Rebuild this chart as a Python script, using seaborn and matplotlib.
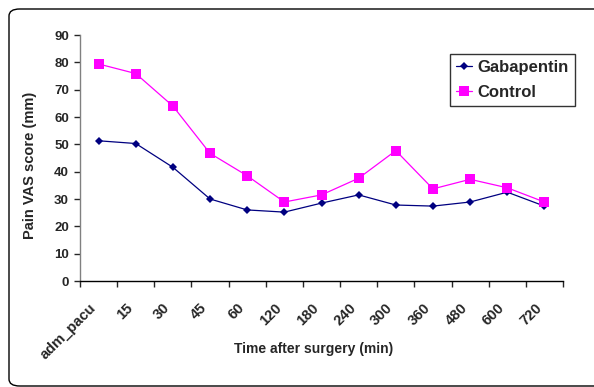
import pandas as pd
import matplotlib.pyplot as plt
import matplotlib.transforms as mtransforms
import seaborn as sns
from matplotlib.patches import FancyBboxPatch

# Datos
times = ['adm_pacu', '15', '30', '45', '60', '120', '180', '240', '300', '360', '480', '600', '720']
gabapentin = [51.3, 50.3, 41.6, 30.0, 26.0, 25.2, 28.5, 31.5, 27.8, 27.4, 28.9, 32.5, 27.4]
control = [79.4, 75.9, 64.0, 46.7, 38.5, 28.9, 31.5, 37.6, 47.7, 33.7, 37.2, 34.1, 28.9]

df = pd.DataFrame({
    'time': times * 2,
    'score': gabapentin + control,
    'group': ['Gabapentin'] * len(times) + ['Control'] * len(times),
})

sns.set_style("white")
plt.rcParams['font.family'] = ['Liberation Sans', 'DejaVu Sans']
plt.rcParams['font.weight'] = 'bold'

fig = plt.figure(figsize=(5.94, 3.87), dpi=100)
ax = fig.add_axes([80 / 594, 1 - 281 / 387, 483 / 594, 246 / 387])

# Marco redondeado del gráfico (se sale por la derecha)
frame = FancyBboxPatch((9 / 594, 1 / 387), 1.2, 377 / 387, boxstyle="round,pad=0,rounding_size=0.018",
                       transform=fig.transFigure, fill=False, edgecolor='black', linewidth=1.0, zorder=0)
fig.patches.append(frame)

sns.lineplot(data=df, x='time', y='score', hue='group', style='group',
             palette={'Gabapentin': '#000080', 'Control': '#FF00FF'},
             markers={'Gabapentin': 'D', 'Control': 's'},
             dashes=False, sort=False, linewidth=0.9, ax=ax,
             markeredgewidth=0, legend=False)
for line, ms in zip(ax.lines, [4.5, 6.5]):
    line.set_markersize(ms)

ax.set_xlim(-0.5, len(times) - 0.5)
ax.set_ylim(0, 90)
ax.set_yticks(range(0, 91, 10))
ax.set_xticks([i - 0.5 for i in range(len(times) + 1)])
ax.set_xticklabels([])
ax.set_xticks(range(len(times)), minor=True)
ax.set_xticklabels(times, minor=True, rotation=45, ha='right', rotation_mode='anchor', fontsize=10.5)
ax.tick_params(axis='x', which='minor', length=0, pad=10)
ax.tick_params(axis='x', which='major', length=4, width=1, direction='out', bottom=True)
ax.tick_params(axis='y', length=4, width=1, direction='out', left=True, labelsize=9.5, pad=4)

# desplazar las etiquetas del eje x un poco a la izquierda y abajo
offset = mtransforms.ScaledTranslation(-0.10, -0.06, fig.dpi_scale_trans)
for lab in ax.get_xticklabels(minor=True):
    lab.set_transform(lab.get_transform() + offset)

sns.despine(ax=ax)
for s in ['left', 'bottom']:
    ax.spines[s].set_color('black')
    ax.spines[s].set_linewidth(1.0)
ax.spines['left'].set_color('#808080')

ax.set_xlabel("Time after surgery (min)", fontsize=10, fontweight='bold')
ax.xaxis.set_label_coords(0.484, -0.25)
ax.set_ylabel("Pain VAS score (mm)", fontsize=10.5, fontweight='bold')
ax.yaxis.set_label_coords(-0.089, 0.47)

handles = [
    plt.Line2D([], [], color='#000080', marker='D', markersize=4.5, markeredgewidth=0, linewidth=0.9),
    plt.Line2D([], [], color='#FF00FF', marker='s', markersize=6.5, markeredgewidth=0, linewidth=0.9),
]
leg = ax.legend(handles, ['Gabapentin', 'Control'], loc='upper left', bbox_to_anchor=(0.766, 0.923),
                borderaxespad=0, frameon=True, fancybox=False, edgecolor='black', fontsize=12,
                handlelength=1.0, handletextpad=0.3, borderpad=0.35, labelspacing=0.6)
leg.get_frame().set_linewidth(1.0)
for t in leg.get_texts():
    t.set_fontweight('bold')

plt.savefig("out.png", dpi=100)
